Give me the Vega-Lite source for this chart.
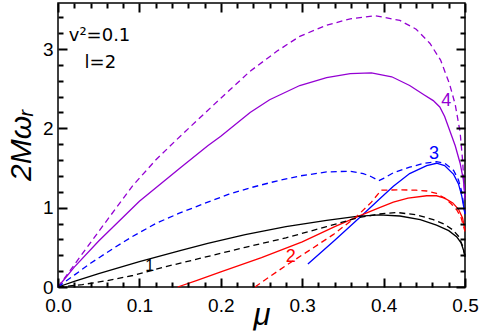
{
  "$schema": "https://vega.github.io/schema/vega-lite/v6.json",
  "width": 407,
  "height": 284,
  "autosize": {"type": "none"},
  "padding": {"left": 58, "top": 3, "right": 15, "bottom": 44},
  "background": "white",
  "config": {
    "view": {"stroke": "black", "strokeWidth": 1.5}
  },
  "datasets": {
    "curves": [
      {"l": "4", "kind": "solid", "mu": 0, "w": 0},
      {"l": "4", "kind": "solid", "mu": 0.02, "w": 0.25},
      {"l": "4", "kind": "solid", "mu": 0.05, "w": 0.58},
      {"l": "4", "kind": "solid", "mu": 0.1, "w": 1.08},
      {"l": "4", "kind": "solid", "mu": 0.15, "w": 1.5},
      {"l": "4", "kind": "solid", "mu": 0.184, "w": 1.78},
      {"l": "4", "kind": "solid", "mu": 0.2, "w": 1.9},
      {"l": "4", "kind": "solid", "mu": 0.236, "w": 2.2},
      {"l": "4", "kind": "solid", "mu": 0.26, "w": 2.36},
      {"l": "4", "kind": "solid", "mu": 0.297, "w": 2.54},
      {"l": "4", "kind": "solid", "mu": 0.33, "w": 2.64},
      {"l": "4", "kind": "solid", "mu": 0.359, "w": 2.69},
      {"l": "4", "kind": "solid", "mu": 0.385, "w": 2.7},
      {"l": "4", "kind": "solid", "mu": 0.41, "w": 2.65},
      {"l": "4", "kind": "solid", "mu": 0.432, "w": 2.54},
      {"l": "4", "kind": "solid", "mu": 0.45, "w": 2.42},
      {"l": "4", "kind": "solid", "mu": 0.461, "w": 2.35},
      {"l": "4", "kind": "solid", "mu": 0.469, "w": 2.27},
      {"l": "4", "kind": "solid", "mu": 0.475, "w": 2.15},
      {"l": "4", "kind": "solid", "mu": 0.481, "w": 1.98},
      {"l": "4", "kind": "solid", "mu": 0.488, "w": 1.78},
      {"l": "4", "kind": "solid", "mu": 0.494, "w": 1.56},
      {"l": "4", "kind": "solid", "mu": 0.498, "w": 1.35},
      {"l": "4", "kind": "solid", "mu": 0.5, "w": 1.15},

      {"l": "4", "kind": "dashed", "mu": 0, "w": 0},
      {"l": "4", "kind": "dashed", "mu": 0.02, "w": 0.28},
      {"l": "4", "kind": "dashed", "mu": 0.05, "w": 0.7},
      {"l": "4", "kind": "dashed", "mu": 0.092, "w": 1.28},
      {"l": "4", "kind": "dashed", "mu": 0.12, "w": 1.6},
      {"l": "4", "kind": "dashed", "mu": 0.145, "w": 1.85},
      {"l": "4", "kind": "dashed", "mu": 0.174, "w": 2.13},
      {"l": "4", "kind": "dashed", "mu": 0.2, "w": 2.38},
      {"l": "4", "kind": "dashed", "mu": 0.236, "w": 2.72},
      {"l": "4", "kind": "dashed", "mu": 0.27, "w": 2.98},
      {"l": "4", "kind": "dashed", "mu": 0.297, "w": 3.16},
      {"l": "4", "kind": "dashed", "mu": 0.33, "w": 3.3},
      {"l": "4", "kind": "dashed", "mu": 0.359, "w": 3.38},
      {"l": "4", "kind": "dashed", "mu": 0.39, "w": 3.42},
      {"l": "4", "kind": "dashed", "mu": 0.42, "w": 3.36},
      {"l": "4", "kind": "dashed", "mu": 0.44, "w": 3.25},
      {"l": "4", "kind": "dashed", "mu": 0.457, "w": 3.07},
      {"l": "4", "kind": "dashed", "mu": 0.47, "w": 2.86},
      {"l": "4", "kind": "dashed", "mu": 0.481, "w": 2.56},
      {"l": "4", "kind": "dashed", "mu": 0.488, "w": 2.3},
      {"l": "4", "kind": "dashed", "mu": 0.494, "w": 1.95},
      {"l": "4", "kind": "dashed", "mu": 0.497, "w": 1.6},
      {"l": "4", "kind": "dashed", "mu": 0.5, "w": 1.1},

      {"l": "3", "kind": "dashed", "mu": 0, "w": 0},
      {"l": "3", "kind": "dashed", "mu": 0.02, "w": 0.15},
      {"l": "3", "kind": "dashed", "mu": 0.04, "w": 0.3},
      {"l": "3", "kind": "dashed", "mu": 0.07, "w": 0.5},
      {"l": "3", "kind": "dashed", "mu": 0.092, "w": 0.64},
      {"l": "3", "kind": "dashed", "mu": 0.12, "w": 0.8},
      {"l": "3", "kind": "dashed", "mu": 0.149, "w": 0.93},
      {"l": "3", "kind": "dashed", "mu": 0.184, "w": 1.07},
      {"l": "3", "kind": "dashed", "mu": 0.21, "w": 1.17},
      {"l": "3", "kind": "dashed", "mu": 0.236, "w": 1.25},
      {"l": "3", "kind": "dashed", "mu": 0.27, "w": 1.34},
      {"l": "3", "kind": "dashed", "mu": 0.297, "w": 1.4},
      {"l": "3", "kind": "dashed", "mu": 0.33, "w": 1.45},
      {"l": "3", "kind": "dashed", "mu": 0.359, "w": 1.46},
      {"l": "3", "kind": "dashed", "mu": 0.375, "w": 1.43},
      {"l": "3", "kind": "dashed", "mu": 0.385, "w": 1.39},
      {"l": "3", "kind": "dashed", "mu": 0.394, "w": 1.34},
      {"l": "3", "kind": "dashed", "mu": 0.4, "w": 1.37},
      {"l": "3", "kind": "dashed", "mu": 0.412, "w": 1.44},
      {"l": "3", "kind": "dashed", "mu": 0.432, "w": 1.51},
      {"l": "3", "kind": "dashed", "mu": 0.45, "w": 1.56},
      {"l": "3", "kind": "dashed", "mu": 0.465, "w": 1.58},
      {"l": "3", "kind": "dashed", "mu": 0.475, "w": 1.56},
      {"l": "3", "kind": "dashed", "mu": 0.486, "w": 1.47},
      {"l": "3", "kind": "dashed", "mu": 0.492, "w": 1.35},
      {"l": "3", "kind": "dashed", "mu": 0.496, "w": 1.2},
      {"l": "3", "kind": "dashed", "mu": 0.5, "w": 0.92},

      {"l": "3", "kind": "solid", "mu": 0.307, "w": 0.29},
      {"l": "3", "kind": "solid", "mu": 0.34, "w": 0.59},
      {"l": "3", "kind": "solid", "mu": 0.371, "w": 0.88},
      {"l": "3", "kind": "solid", "mu": 0.395, "w": 1.11},
      {"l": "3", "kind": "solid", "mu": 0.412, "w": 1.27},
      {"l": "3", "kind": "solid", "mu": 0.432, "w": 1.43},
      {"l": "3", "kind": "solid", "mu": 0.453, "w": 1.53},
      {"l": "3", "kind": "solid", "mu": 0.465, "w": 1.56},
      {"l": "3", "kind": "solid", "mu": 0.475, "w": 1.53},
      {"l": "3", "kind": "solid", "mu": 0.486, "w": 1.42},
      {"l": "3", "kind": "solid", "mu": 0.492, "w": 1.3},
      {"l": "3", "kind": "solid", "mu": 0.496, "w": 1.15},
      {"l": "3", "kind": "solid", "mu": 0.5, "w": 0.92},

      {"l": "2", "kind": "solid", "mu": 0.147, "w": 0},
      {"l": "2", "kind": "solid", "mu": 0.17, "w": 0.08},
      {"l": "2", "kind": "solid", "mu": 0.2, "w": 0.19},
      {"l": "2", "kind": "solid", "mu": 0.25, "w": 0.37},
      {"l": "2", "kind": "solid", "mu": 0.3, "w": 0.57},
      {"l": "2", "kind": "solid", "mu": 0.34, "w": 0.76},
      {"l": "2", "kind": "solid", "mu": 0.371, "w": 0.9},
      {"l": "2", "kind": "solid", "mu": 0.395, "w": 1.0},
      {"l": "2", "kind": "solid", "mu": 0.412, "w": 1.07},
      {"l": "2", "kind": "solid", "mu": 0.43, "w": 1.12},
      {"l": "2", "kind": "solid", "mu": 0.453, "w": 1.15},
      {"l": "2", "kind": "solid", "mu": 0.465, "w": 1.15},
      {"l": "2", "kind": "solid", "mu": 0.475, "w": 1.12},
      {"l": "2", "kind": "solid", "mu": 0.485, "w": 1.06},
      {"l": "2", "kind": "solid", "mu": 0.492, "w": 0.98},
      {"l": "2", "kind": "solid", "mu": 0.497, "w": 0.87},
      {"l": "2", "kind": "solid", "mu": 0.5, "w": 0.72},

      {"l": "2", "kind": "dashed", "mu": 0.242, "w": 0},
      {"l": "2", "kind": "dashed", "mu": 0.26, "w": 0.13},
      {"l": "2", "kind": "dashed", "mu": 0.28, "w": 0.27},
      {"l": "2", "kind": "dashed", "mu": 0.31, "w": 0.47},
      {"l": "2", "kind": "dashed", "mu": 0.338, "w": 0.66},
      {"l": "2", "kind": "dashed", "mu": 0.367, "w": 0.89},
      {"l": "2", "kind": "dashed", "mu": 0.385, "w": 1.07},
      {"l": "2", "kind": "dashed", "mu": 0.397, "w": 1.22},
      {"l": "2", "kind": "dashed", "mu": 0.42, "w": 1.225},
      {"l": "2", "kind": "dashed", "mu": 0.44, "w": 1.22},
      {"l": "2", "kind": "dashed", "mu": 0.453, "w": 1.21},
      {"l": "2", "kind": "dashed", "mu": 0.465, "w": 1.18},
      {"l": "2", "kind": "dashed", "mu": 0.475, "w": 1.12},
      {"l": "2", "kind": "dashed", "mu": 0.483, "w": 1.05},
      {"l": "2", "kind": "dashed", "mu": 0.49, "w": 0.97},
      {"l": "2", "kind": "dashed", "mu": 0.495, "w": 0.88},
      {"l": "2", "kind": "dashed", "mu": 0.5, "w": 0.7},

      {"l": "1", "kind": "solid", "mu": 0, "w": 0},
      {"l": "1", "kind": "solid", "mu": 0.02, "w": 0.07},
      {"l": "1", "kind": "solid", "mu": 0.05, "w": 0.17},
      {"l": "1", "kind": "solid", "mu": 0.1, "w": 0.32},
      {"l": "1", "kind": "solid", "mu": 0.15, "w": 0.46},
      {"l": "1", "kind": "solid", "mu": 0.184, "w": 0.55},
      {"l": "1", "kind": "solid", "mu": 0.23, "w": 0.66},
      {"l": "1", "kind": "solid", "mu": 0.28, "w": 0.76},
      {"l": "1", "kind": "solid", "mu": 0.33, "w": 0.84},
      {"l": "1", "kind": "solid", "mu": 0.367, "w": 0.89},
      {"l": "1", "kind": "solid", "mu": 0.395, "w": 0.91},
      {"l": "1", "kind": "solid", "mu": 0.42, "w": 0.895},
      {"l": "1", "kind": "solid", "mu": 0.445, "w": 0.85},
      {"l": "1", "kind": "solid", "mu": 0.465, "w": 0.78},
      {"l": "1", "kind": "solid", "mu": 0.48, "w": 0.71},
      {"l": "1", "kind": "solid", "mu": 0.49, "w": 0.63},
      {"l": "1", "kind": "solid", "mu": 0.495, "w": 0.56},
      {"l": "1", "kind": "solid", "mu": 0.498, "w": 0.47},
      {"l": "1", "kind": "solid", "mu": 0.5, "w": 0.38},

      {"l": "1", "kind": "dashed", "mu": 0, "w": 0},
      {"l": "1", "kind": "dashed", "mu": 0.03, "w": 0.03},
      {"l": "1", "kind": "dashed", "mu": 0.06, "w": 0.08},
      {"l": "1", "kind": "dashed", "mu": 0.092, "w": 0.145},
      {"l": "1", "kind": "dashed", "mu": 0.13, "w": 0.25},
      {"l": "1", "kind": "dashed", "mu": 0.174, "w": 0.36},
      {"l": "1", "kind": "dashed", "mu": 0.23, "w": 0.5},
      {"l": "1", "kind": "dashed", "mu": 0.28, "w": 0.62},
      {"l": "1", "kind": "dashed", "mu": 0.33, "w": 0.76},
      {"l": "1", "kind": "dashed", "mu": 0.367, "w": 0.87},
      {"l": "1", "kind": "dashed", "mu": 0.395, "w": 0.92},
      {"l": "1", "kind": "dashed", "mu": 0.416, "w": 0.94},
      {"l": "1", "kind": "dashed", "mu": 0.44, "w": 0.91},
      {"l": "1", "kind": "dashed", "mu": 0.461, "w": 0.85},
      {"l": "1", "kind": "dashed", "mu": 0.475, "w": 0.79},
      {"l": "1", "kind": "dashed", "mu": 0.485, "w": 0.72},
      {"l": "1", "kind": "dashed", "mu": 0.492, "w": 0.64},
      {"l": "1", "kind": "dashed", "mu": 0.497, "w": 0.52},
      {"l": "1", "kind": "dashed", "mu": 0.5, "w": 0.4}
    ],
    "labels": [
      {"l": "1", "mu": 0.1127, "w": 0.26, "size": 16},
      {"l": "2", "mu": 0.286, "w": 0.378, "size": 18},
      {"l": "3", "mu": 0.462, "w": 1.68, "size": 18},
      {"l": "4", "mu": 0.477, "w": 2.34, "size": 18}
    ],
    "notes": [
      {"text": "v²=0.1", "mu": 0.051, "w": 3.17},
      {"text": "l=2", "mu": 0.052, "w": 2.82}
    ]
  },
  "resolve": {"axis": {"x": "independent", "y": "independent"}},
  "layer": [
    {
      "data": {"name": "curves"},
      "transform": [{"filter": "datum.kind == 'solid'"}],
      "mark": {"type": "line", "strokeWidth": 1.3},
      "encoding": {
        "x": {
          "field": "mu", "type": "quantitative",
          "scale": {"domain": [0, 0.5], "nice": false, "zero": false},
          "axis": {
            "orient": "bottom", "values": [0, 0.1, 0.2, 0.3, 0.4, 0.5], "format": ".1f",
            "offset": -9, "tickSize": 9, "tickColor": "black", "tickWidth": 2, "zindex": 1,
            "domain": false, "grid": false,
            "labelPadding": 9, "labelFont": "Liberation Sans", "labelFontSize": 19, "labelColor": "black",
            "labelFlush": false, "labelOverlap": false, "labelBound": false,
            "title": "μ", "titleFont": "Liberation Sans", "titleColor": "black", "titleFontWeight": "normal",
            "titleFontSize": 31, "titleFontStyle": "italic", "titlePadding": -15
          }
        },
        "y": {
          "field": "w", "type": "quantitative",
          "scale": {"domain": [0, 3.58], "nice": false, "zero": false},
          "axis": {
            "orient": "left", "values": [0, 1, 2, 3], "format": "d",
            "offset": -9, "tickSize": 9, "tickColor": "black", "tickWidth": 2, "zindex": 1,
            "domain": false, "grid": false,
            "labelPadding": 5, "labelFont": "Liberation Sans", "labelFontSize": 19, "labelColor": "black",
            "labelFlush": false, "labelOverlap": false, "labelBound": false,
            "title": "2Mωᵣ", "titleFont": "Liberation Sans", "titleColor": "black", "titleFontWeight": "normal",
            "titleFontSize": 30, "titleFontStyle": "italic", "titlePadding": 6
          }
        },
        "color": {
          "field": "l", "type": "nominal",
          "scale": {"domain": ["1", "2", "3", "4"], "range": ["#000000", "#ff0000", "#0000ff", "#9400d3"]},
          "legend": null
        },
        "detail": {"field": "l"}
      }
    },
    {
      "data": {"name": "curves"},
      "transform": [{"filter": "datum.kind == 'dashed'"}],
      "mark": {"type": "line", "strokeWidth": 1.3, "strokeDash": [6, 4]},
      "encoding": {
        "x": {
          "field": "mu", "type": "quantitative",
          "axis": {
            "orient": "bottom",
            "values": [0.02, 0.04, 0.06, 0.08, 0.12, 0.14, 0.16, 0.18, 0.22, 0.24, 0.26, 0.28, 0.32, 0.34, 0.36, 0.38, 0.42, 0.44, 0.46, 0.48],
            "offset": -5, "tickSize": 5, "tickColor": "black", "tickWidth": 2, "zindex": 1,
            "domain": false, "grid": false, "labels": false, "title": null
          }
        },
        "y": {
          "field": "w", "type": "quantitative",
          "axis": {
            "orient": "left",
            "values": [0.2, 0.4, 0.6, 0.8, 1.2, 1.4, 1.6, 1.8, 2.2, 2.4, 2.6, 2.8, 3.2, 3.4],
            "offset": -5, "tickSize": 5, "tickColor": "black", "tickWidth": 2, "zindex": 1,
            "domain": false, "grid": false, "labels": false, "title": null
          }
        },
        "color": {"field": "l", "type": "nominal", "legend": null},
        "detail": {"field": "l"}
      }
    },
    {
      "data": {"name": "labels"},
      "mark": {"type": "text", "font": "Liberation Sans", "align": "center", "baseline": "middle"},
      "encoding": {
        "x": {
          "field": "mu", "type": "quantitative",
          "axis": {"orient": "top", "values": [0, 0.1, 0.2, 0.3, 0.4, 0.5], "offset": -9, "tickSize": 9, "tickColor": "black", "tickWidth": 2, "zindex": 1, "domain": false, "grid": false, "labels": false, "title": null}
        },
        "y": {
          "field": "w", "type": "quantitative",
          "axis": {"orient": "right", "values": [0, 1, 2, 3], "offset": -9, "tickSize": 9, "tickColor": "black", "tickWidth": 2, "zindex": 1, "domain": false, "grid": false, "labels": false, "title": null}
        },
        "text": {"field": "l", "type": "nominal"},
        "size": {"field": "size", "type": "quantitative", "scale": null},
        "color": {"field": "l", "type": "nominal", "legend": null}
      }
    },
    {
      "data": {"name": "notes"},
      "mark": {"type": "text", "font": "DejaVu Sans", "fontSize": 18, "align": "center", "baseline": "middle", "color": "black"},
      "encoding": {
        "x": {
          "field": "mu", "type": "quantitative",
          "axis": {
            "orient": "top",
            "values": [0.02, 0.04, 0.06, 0.08, 0.12, 0.14, 0.16, 0.18, 0.22, 0.24, 0.26, 0.28, 0.32, 0.34, 0.36, 0.38, 0.42, 0.44, 0.46, 0.48],
            "offset": -5, "tickSize": 5, "tickColor": "black", "tickWidth": 2, "zindex": 1,
            "domain": false, "grid": false, "labels": false, "title": null
          }
        },
        "y": {
          "field": "w", "type": "quantitative",
          "axis": {
            "orient": "right",
            "values": [0.2, 0.4, 0.6, 0.8, 1.2, 1.4, 1.6, 1.8, 2.2, 2.4, 2.6, 2.8, 3.2, 3.4],
            "offset": -5, "tickSize": 5, "tickColor": "black", "tickWidth": 2, "zindex": 1,
            "domain": false, "grid": false, "labels": false, "title": null
          }
        },
        "text": {"field": "text", "type": "nominal"}
      }
    }
  ]
}
